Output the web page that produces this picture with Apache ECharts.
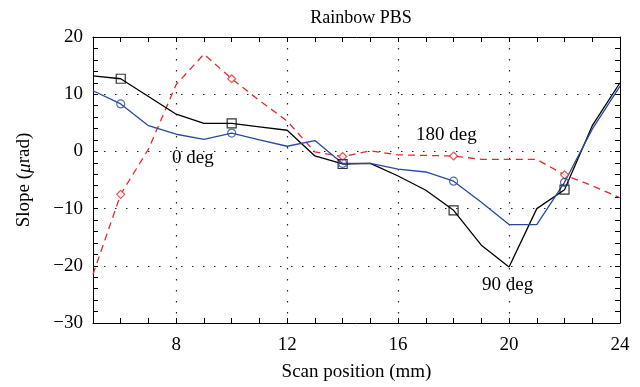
<!DOCTYPE html>
<html><head><meta charset="utf-8">
<script src="https://cdn.jsdelivr.net/npm/echarts@6/dist/echarts.min.js"></script>
<style>html,body{margin:0;padding:0;background:#fff}#c{width:640px;height:387px}</style>
</head><body><div id="c"></div>
<script>
const xPositions = [5,6,7,8,9,10,11,12,13,14,15,16,17,18,19,20,21,22,23,24];
const deg0 = [10.6,8.3,4.5,3.0,2.1,3.2,2.0,0.9,1.9,-2.1,-2.1,-3.1,-3.6,-5.2,-8.9,-12.8,-12.8,-5.4,3.9,11.4];
const deg90 = [13.2,12.7,9.6,6.5,4.9,4.9,4.3,3.7,-0.8,-2.2,-2.1,-4.3,-6.8,-10.3,-16.4,-20.2,-10.0,-6.7,4.5,12.0];
const deg180 = [-21.5,-7.5,0.4,11.7,17.0,12.7,8.9,5.3,-0.1,-0.9,0.1,-0.6,-0.7,-0.8,-1.4,-1.4,-1.4,-4.1,-6.0,-8.1];
const markerX = [6,10,14,18,22];
const xLabelValues = [8,12,16,20,24];
const xGridValues = [8,12,16,20];
const seriesLabels = ['0 deg','90 deg','180 deg'];

const font = '"Liberation Serif", "DejaVu Serif", serif';
function pairs(vals){ return xPositions.map((x,i)=>[x, vals[i]]); }
function markers(vals){ return markerX.map(x=>[x, vals[xPositions.indexOf(x)]]); }
const minus = v => String(v).replace('-', '\u2212');

const chart = echarts.init(document.getElementById('c'), null, {renderer:'canvas'});
const dotted = {color:'#222', width:1.2, type:[1.5,9.5]};
const axisLineStyle = {color:'#000', width:1};
const tick = {show:true, inside:true, length:5, lineStyle:{color:'#000', width:1}};
const FS = 19;

chart.setOption({
  animation:false,
  backgroundColor:'#fff',
  title:{text:'Rainbow PBS', left:356, textAlign:'center', top:4, textStyle:{fontFamily:font, fontSize:18, fontWeight:'normal', color:'#000'}},
  grid:{left:93, right:20, top:37, bottom:62},
  xAxis:[
    {type:'value', min:5, max:24, interval:1, position:'bottom',
     name:'Scan position (mm)', nameLocation:'middle', nameGap:40,
     nameTextStyle:{fontFamily:font, fontSize:FS, color:'#000'},
     axisLine:{show:true, onZero:false, lineStyle:axisLineStyle}, axisTick:tick,
     axisLabel:{customValues:xLabelValues, fontFamily:font, fontSize:FS, color:'#000', margin:13},
     splitLine:{show:false}},
    {type:'value', min:5, max:24, interval:1, position:'top',
     axisLine:{show:true, onZero:false, lineStyle:axisLineStyle}, axisTick:tick,
     axisLabel:{show:false}, splitLine:{show:false}},
    {type:'value', min:5, max:24, position:'bottom',
     axisLine:{show:false}, axisTick:{show:false, customValues:xGridValues},
     axisLabel:{show:false}, splitLine:{show:true, lineStyle:dotted}}
  ],
  yAxis:[
    {type:'value', min:-30, max:20, interval:10, position:'left',
     name:'{n|Slope (}{i|\u03bc}{n|rad)}', nameLocation:'middle', nameGap:59, nameRotate:90,
     nameTextStyle:{rich:{n:{fontFamily:font, fontSize:FS, color:'#000'}, i:{fontFamily:font, fontSize:FS, fontStyle:'italic', color:'#000'}}},
     axisLine:{show:true, onZero:false, lineStyle:axisLineStyle}, axisTick:tick,
     minorTick:{show:true, splitNumber:5, length:5, lineStyle:{color:'#000'}},
     axisLabel:{fontFamily:font, fontSize:FS, color:'#000', margin:10, formatter:minus},
     splitLine:{show:true, lineStyle:dotted}},
    {type:'value', min:-30, max:20, interval:10, position:'right',
     axisLine:{show:true, onZero:false, lineStyle:axisLineStyle}, axisTick:tick,
     minorTick:{show:true, splitNumber:5, length:5, lineStyle:{color:'#000'}},
     axisLabel:{show:false}, splitLine:{show:false}}
  ],
  series:[
    {name:seriesLabels[2], type:'line', data:pairs(deg180), symbol:'none', lineStyle:{color:'#e8282a', width:1.3, type:[7,5]}, z:3},
    {name:seriesLabels[1], type:'line', data:pairs(deg90), symbol:'none', lineStyle:{color:'#000', width:1.3}, z:4},
    {name:seriesLabels[0], type:'line', data:pairs(deg0), symbol:'none', lineStyle:{color:'#2a4a9e', width:1.3}, z:5},
    {type:'scatter', data:markers(deg180), symbol:'diamond', symbolSize:8, itemStyle:{color:'#fff', borderColor:'#e8282a', borderWidth:1.2}, z:6},
    {type:'scatter', data:markers(deg90), symbol:'rect', symbolSize:9, itemStyle:{color:'rgba(0,0,0,0)', borderColor:'#000', borderWidth:1.2}, z:6},
    {type:'scatter', data:markers(deg0), symbol:'circle', symbolSize:8, itemStyle:{color:'rgba(0,0,0,0)', borderColor:'#2a4a9e', borderWidth:1.2}, z:7}
  ],
  graphic:[
    {type:'text', left:172, top:149, style:{text:seriesLabels[0], font:FS+'px '+font, fill:'#000'}, z:10},
    {type:'text', left:482, top:276, style:{text:seriesLabels[1], font:FS+'px '+font, fill:'#000'}, z:10},
    {type:'text', left:416, top:126, style:{text:seriesLabels[2], font:FS+'px '+font, fill:'#000'}, z:10}
  ]
});
</script></body></html>
